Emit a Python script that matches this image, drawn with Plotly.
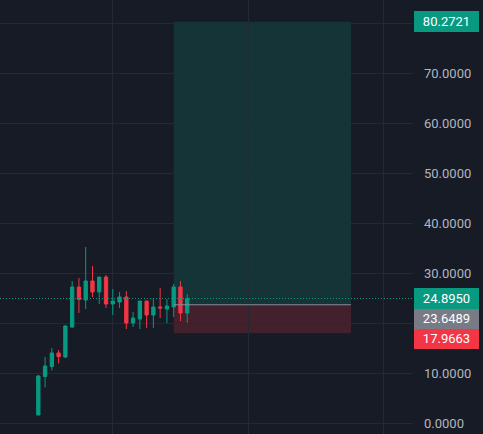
import plotly.graph_objects as go

# ---- data ----
bar_index = list(range(23))
opens  = [1.6, 9.3, 11.3, 14.0, 13.2, 19.2, 27.2, 24.6, 28.4, 26.2, 29.2, 23.8, 24.2, 25.2, 20.0, 20.8, 24.4, 21.6, 23.2, 22.8, 23.2, 27.2, 22.0]
highs  = [9.6, 13.2, 15.0, 14.6, 19.6, 28.4, 29.0, 35.2, 31.4, 29.2, 29.6, 26.8, 26.2, 26.4, 22.2, 24.4, 24.4, 25.0, 27.0, 24.8, 27.8, 28.4, 25.8]
lows   = [1.6, 7.1, 10.5, 11.9, 13.0, 19.0, 22.0, 22.8, 25.2, 23.8, 23.0, 21.6, 23.0, 18.8, 19.2, 18.8, 19.0, 19.0, 21.0, 20.0, 21.2, 20.4, 20.0]
closes = [9.4, 11.4, 14.0, 13.3, 19.4, 27.2, 24.7, 28.4, 26.2, 29.2, 23.8, 24.4, 25.2, 20.0, 21.0, 24.4, 21.6, 23.2, 23.0, 23.4, 27.2, 22.0, 24.895]

last_price = 24.8950
entry_price = 23.6489
target_price = 80.2721
stop_price = 17.9663
position_start_bar = 20
position_end_bar = 46.2

y_grid = [0, 10, 20, 30, 40, 50, 60, 70, 80]
y_tick_labels = ["0.0000", "10.0000", "", "30.0000", "40.0000", "50.0000", "60.0000", "70.0000", ""]
x_grid_bars = [11, 31, 51]

# ---- style ----
BG = "#171b26"
GRID = "#252934"
UP = "#089981"
DOWN = "#f23645"
W, H = 483, 434
PLOT_RIGHT = 413

fig = go.Figure()
fig.add_trace(go.Candlestick(
    x=bar_index, open=opens, high=highs, low=lows, close=closes,
    increasing=dict(line=dict(color=UP, width=1), fillcolor=UP),
    decreasing=dict(line=dict(color=DOWN, width=1), fillcolor=DOWN),
    whiskerwidth=0, hoverinfo="skip", showlegend=False,
))

shapes = [
    dict(type="rect", xref="x", yref="y", x0=position_start_bar, x1=position_end_bar,
         y0=entry_price, y1=target_price, fillcolor="rgba(8,153,129,0.2)",
         line=dict(width=0), layer="below"),
    dict(type="rect", xref="x", yref="y", x0=position_start_bar, x1=position_end_bar,
         y0=stop_price, y1=entry_price, fillcolor="rgba(242,54,69,0.2)",
         line=dict(width=0), layer="below"),
    dict(type="line", xref="x", yref="y", x0=position_start_bar, x1=position_end_bar,
         y0=entry_price, y1=entry_price, line=dict(color="#8a8d96", width=1)),
    dict(type="line", xref="paper", yref="y", x0=0, x1=(PLOT_RIGHT + 1) / W,
         y0=last_price, y1=last_price, line=dict(color=UP, width=1, dash="1px,2px")),
]

def label(price, color, yshift=0):
    return dict(xref="paper", yref="y", x=(PLOT_RIGHT + 1) / W, y=price,
                xanchor="left", yanchor="middle", yshift=yshift,
                text=f"{price:.4f}", showarrow=False,
                font=dict(color="#ffffff", size=13, family="Roboto"),
                bgcolor=color, borderpad=2, borderwidth=0,
                width=61, height=17, align="center")

annotations = [
    label(target_price, UP),
    label(stop_price, DOWN, yshift=-5),
    label(entry_price, "#787b86", yshift=-13.7),
    label(last_price, UP),
]

fig.update_layout(
    width=W, height=H,
    margin=dict(l=0, r=0, t=0, b=0, autoexpand=False),
    paper_bgcolor=BG, plot_bgcolor=BG,
    shapes=shapes, annotations=annotations,
    showlegend=False,
    xaxis=dict(domain=[0, PLOT_RIGHT / W], range=[-5.66, 55.35],
               tickvals=x_grid_bars, showticklabels=False, automargin=False,
               showgrid=True, gridcolor=GRID, gridwidth=1,
               zeroline=False, showline=False, rangeslider=dict(visible=False),
               fixedrange=True),
    yaxis=dict(side="right", range=[-2.2, 84.6], tickvals=y_grid,
               ticktext=y_tick_labels, automargin=False,
               showgrid=True, gridcolor=GRID, gridwidth=1,
               zeroline=False, showline=False, ticks="",
               ticklabelstandoff=10,
               tickfont=dict(color="#b2b5be", size=13, family="Roboto"),
               fixedrange=True),
)

fig.write_html("out.html", config={"displayModeBar": False},
               post_script="document.body.style.margin='0';document.body.style.background='%s';" % BG)
